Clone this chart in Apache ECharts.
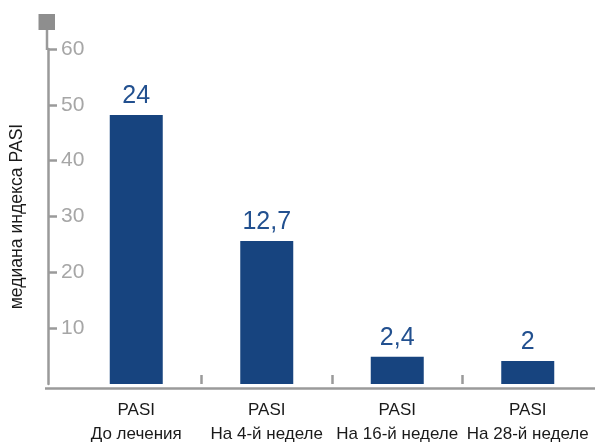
<!DOCTYPE html>
<html>
<head>
<meta charset="utf-8">
<script src="https://cdn.jsdelivr.net/npm/echarts@6/dist/echarts.min.js"></script>
<style>
  html, body { margin: 0; padding: 0; background: #fff; }
  #main { width: 595px; height: 446px; }
</style>
</head>
<body>
<div id="main"></div>
<script>
// данные
var categories = ['PASI\nДо лечения', 'PASI\nНа 4-й неделе', 'PASI\nНа 16-й неделе', 'PASI\nНа 28-й неделе'];
var barValues = [48.2, 25.6, 4.9, 4.1]; // высота столбцов по оси
var valueLabels = ['24', '12,7', '2,4', '2']; // подписи над столбцами
var yMax = 60;
var yStep = 10;
var axisTitle = 'медиана индекса PASI';

var FONT = "'Liberation Sans', Arial, sans-serif";
var GREY = '#9a9a9a';

var chart = echarts.init(document.getElementById('main'));

var option = {
  animation: false,
  grid: { left: 70, right: 2, top: 49, bottom: 57 },
  xAxis: [
    {
      type: 'category',
      data: categories,
      axisLine: { show: false },
      axisTick: { show: false },
      axisLabel: {
        margin: 14,
        color: '#1a1a1a',
        fontFamily: FONT,
        fontSize: 17,
        lineHeight: 24,
        interval: 0
      }
    },
    {
      // только засечки между категориями
      type: 'category',
      position: 'bottom',
      boundaryGap: false,
      data: ['', '', '', '', ''],
      axisLine: { show: false },
      axisLabel: { show: false },
      axisTick: {
        show: true,
        inside: true,
        length: 9,
        lineStyle: { color: GREY, width: 2.5 },
        interval: function (i) { return i >= 1 && i <= 3; }
      }
    }
  ],
  yAxis: {
    type: 'value',
    min: 0,
    max: yMax,
    interval: yStep,
    offset: 23,
    name: axisTitle,
    nameLocation: 'middle',
    nameRotate: 90,
    nameGap: 22,
    nameTextStyle: { color: '#1a1a1a', fontFamily: FONT, fontSize: 17.6 },
    axisLine: { show: true, lineStyle: { color: GREY, width: 2.5 } },
    axisTick: { show: true, inside: true, length: 9, lineStyle: { color: GREY, width: 2.5 } },
    axisLabel: {
      inside: true,
      margin: 13,
      showMinLabel: false,
      color: '#a6a6a6',
      fontFamily: FONT,
      fontSize: 21
    },
    splitLine: { show: false }
  },
  series: [{
    type: 'bar',
    data: barValues,
    barWidth: 53,
    itemStyle: { color: '#17447f' },
    label: {
      show: true,
      position: 'top',
      distance: 6,
      color: '#22508f',
      fontFamily: FONT,
      fontSize: 25,
      formatter: function (p) { return valueLabels[p.dataIndex]; }
    }
  }],
  graphic: [
    {
      type: 'line',
      shape: { x1: 45, y1: 388.5, x2: 595, y2: 388.5 },
      style: { stroke: GREY, lineWidth: 2.5 }
    },
    {
      type: 'line',
      shape: { x1: 47, y1: 28, x2: 47, y2: 50 },
      style: { stroke: GREY, lineWidth: 2.5 }
    },
    {
      type: 'rect',
      shape: { x: 38.5, y: 14, width: 16.5, height: 16 },
      style: { fill: '#8e8e8e' }
    }
  ]
};

chart.setOption(option);
</script>
</body>
</html>
